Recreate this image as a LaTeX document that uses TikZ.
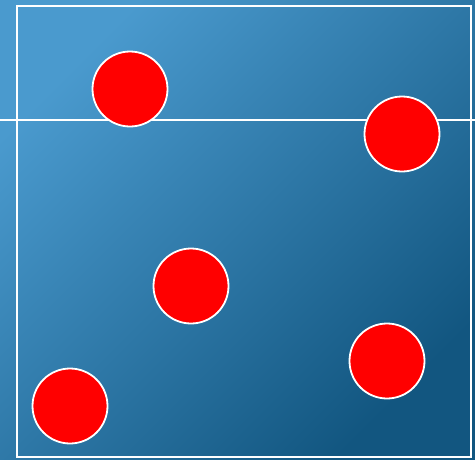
\documentclass[tikz,border=0pt]{standalone}
\usepackage{tikz}
\definecolor{bglight}{RGB}{74,154,206}
\definecolor{bgdark}{RGB}{18,86,128}
\tikzset{
  frame/.style ={draw=white, line width=1.5pt},
  rule/.style  ={draw=white, line width=1.5pt},
  dot/.style   ={circle, draw=white, line width=1.8pt, fill=red, minimum size=75pt, inner sep=0pt},
}

\begin{document}
\begin{tikzpicture}[x=1pt, y=-1pt]
  \useasboundingbox (0,0) rectangle (475,459);
  \fill[top color=bglight, bottom color=bgdark, shading angle=45] (0,0) rectangle (475,459);
  \draw[frame] (17,6) rectangle (471,457);
  \draw[rule] (0,120) -- (475,120);
  \node[dot] (p1) at (130,89) {};
  \node[dot] (p2) at (402,134) {};
  \node[dot] (p3) at (191,286) {};
  \node[dot] (p4) at (387,361) {};
  \node[dot] (p5) at (70,406) {};
\end{tikzpicture}
\end{document}
